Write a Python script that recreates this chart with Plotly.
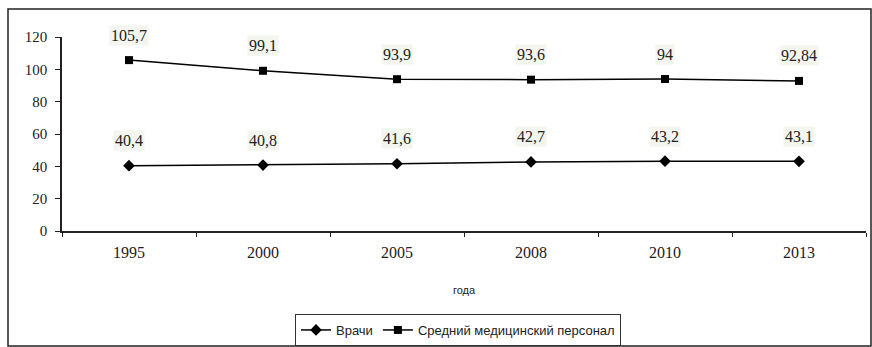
import plotly.graph_objects as go

years = ["1995", "2000", "2005", "2008", "2010", "2013"]
vrachi = [40.4, 40.8, 41.6, 42.7, 43.2, 43.1]
vrachi_labels = ["40,4", "40,8", "41,6", "42,7", "43,2", "43,1"]
srednij = [105.7, 99.1, 93.9, 93.6, 94, 92.84]
srednij_labels = ["105,7", "99,1", "93,9", "93,6", "94", "92,84"]
y_ticks = [0, 20, 40, 60, 80, 100, 120]

W, H = 872, 347
L, R, T, B = 62, 6, 37, 116

fig = go.Figure()
fig.add_trace(go.Scatter(
    x=years, y=vrachi, name="Врачи", mode="lines+markers",
    line=dict(color="black", width=1.5),
    marker=dict(symbol="diamond", size=9, color="black"),
))
fig.add_trace(go.Scatter(
    x=years, y=srednij, name="Средний медицинский персонал", mode="lines+markers",
    line=dict(color="black", width=1.5),
    marker=dict(symbol="square", size=8, color="black"),
))

serif = "Liberation Serif, Times New Roman, serif"
sans = "Liberation Sans, Arial, sans-serif"
annotations = []
for ys, labs in ((vrachi, vrachi_labels), (srednij, srednij_labels)):
    for i, (yv, lab) in enumerate(zip(ys, labs)):
        annotations.append(dict(
            x=i, y=yv, xref="x", yref="y", text=lab, showarrow=False, yshift=25,
            font=dict(family=serif, size=16, color="#222"),
            bgcolor="#f3f6ee", borderpad=1,
        ))

pw = W - L - R
ph = H - T - B
def px_x(p):
    return (p - L) / pw
def px_y(p):
    return (H - B - p) / ph

fig.update_layout(
    width=W, height=H,
    margin=dict(l=L, r=R, t=T, b=B, autoexpand=False),
    paper_bgcolor="white", plot_bgcolor="white",
    showlegend=True,
    annotations=annotations,
    shapes=[dict(type="rect", xref="paper", yref="paper",
                 x0=px_x(8), x1=px_x(871), y0=px_y(346), y1=px_y(9),
                 line=dict(color="#222", width=1.5), fillcolor="rgba(0,0,0,0)")],
    legend=dict(
        orientation="h", x=px_x(458), xanchor="center", y=px_y(314), yanchor="top",
        bordercolor="#333", borderwidth=1, bgcolor="white",
        font=dict(family=sans, size=13, color="#222"),
        itemwidth=30, tracegroupgap=0,
    ),
    xaxis=dict(
        type="category", range=[-0.5, 5.5], tickson="boundaries",
        showline=True, linecolor="#222", linewidth=1.5,
        ticks="outside", ticklen=4, tickcolor="#222",
        showgrid=False, zeroline=False,
        tickfont=dict(family=serif, size=16, color="#222"),
        ticklabelstandoff=6,
        title=dict(text="года", font=dict(family=sans, size=11, color="#222"), standoff=26),
    ),
    yaxis=dict(
        range=[0, 120], tickvals=y_ticks,
        showline=True, linecolor="#222", linewidth=1.5,
        ticks="outside", ticklen=5, tickcolor="#222",
        showgrid=False, zeroline=False,
        tickfont=dict(family=serif, size=15, color="#222"),
        ticklabelstandoff=5,
    ),
)

fig.write_html("out.html")
